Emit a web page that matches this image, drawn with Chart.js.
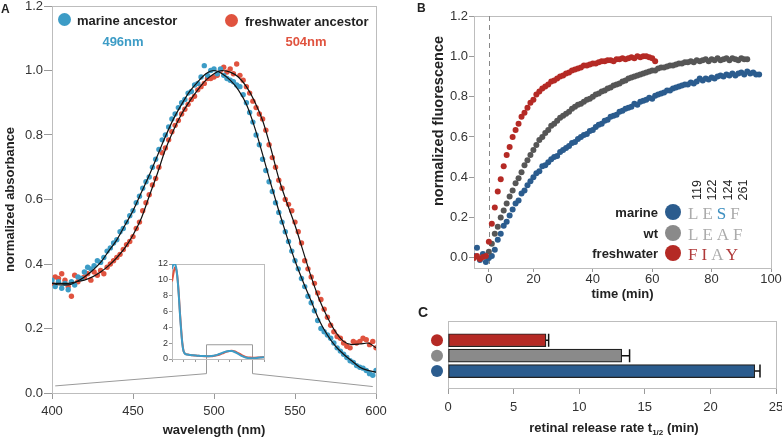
<!DOCTYPE html>
<html lang="en">
<head>
<meta charset="UTF-8" />
<title>Ancestral rhodopsin spectra and retinal release</title>
<style>
  body { margin: 0; background: #fff; font-family: 'Liberation Sans', Arial, sans-serif; color: #222; }
  #fig { position: relative; width: 782px; height: 439px; overflow: hidden; }
  canvas { position: absolute; }
  .t { position: absolute; white-space: nowrap; line-height: 1; }
  .b { font-weight: bold; font-size: 13px; }
  .mid { transform: translate(-50%, -50%); }
  .lft { transform: translateY(-50%); }
  .rgt { transform: translate(-100%, -50%); }
  .dot { position: absolute; border-radius: 50%; }
  .seq { font-family: 'Liberation Serif', 'DejaVu Serif', serif; font-size: 17px; letter-spacing: 4px; color: #ababab; }
  .num { font-size: 12.5px; transform: translate(-50%, -50%) rotate(-90deg); }
  .pl { font-weight: bold; font-size: 12px; }
</style>
</head>
<body>
<div id="fig">
  <canvas id="cA" width="400" height="439" style="left:0;top:0"></canvas>
  <canvas id="cInset" width="120" height="108" style="left:150px;top:258px"></canvas>
  <canvas id="cB" width="382" height="302" style="left:400px;top:0"></canvas>
  <canvas id="cC" width="382" height="139" style="left:400px;top:300px"></canvas>

  <!-- panel letters -->
  <div class="t pl" style="left:1px;top:3px">A</div>
  <div class="t pl" style="left:417px;top:2px">B</div>
  <div class="t pl" style="left:418px;top:305px;font-size:14px">C</div>

  <!-- A legend -->
  <div class="dot" style="left:58px;top:13px;width:13px;height:13px;background:#3d9cc6"></div>
  <div class="t b lft" style="left:77px;top:20px">marine ancestor</div>
  <div class="t b mid" style="left:123px;top:41px;color:#3d9cc6">496nm</div>
  <div class="dot" style="left:225px;top:14px;width:13px;height:13px;background:#e0533f"></div>
  <div class="t b lft" style="left:245px;top:21px">freshwater ancestor</div>
  <div class="t b mid" style="left:306px;top:41px;color:#e0533f">504nm</div>

  <!-- B axis title (sits above centre in the original) -->
  <div class="t mid" style="left:438px;top:121px;font-weight:bold;font-size:14.5px;transform:translate(-50%,-50%) rotate(-90deg)">normalized fluorescence</div>

  <!-- B legend -->
  <div class="t num" style="left:697px;top:190px">119</div>
  <div class="t num" style="left:712px;top:190px">122</div>
  <div class="t num" style="left:728px;top:190px">124</div>
  <div class="t num" style="left:743px;top:190px">261</div>
  <div class="t b rgt" style="left:658px;top:212px">marine</div>
  <div class="dot" style="left:665px;top:204px;width:16px;height:16px;background:#2b5c8e"></div>
  <div class="t seq lft" style="left:688px;top:213px">LE<span style="color:#3d8fc0">S</span>F</div>
  <div class="t b rgt" style="left:658px;top:233px">wt</div>
  <div class="dot" style="left:665px;top:225px;width:16px;height:16px;background:#8a8a8a"></div>
  <div class="t seq lft" style="left:688px;top:234px">LEAF</div>
  <div class="t b rgt" style="left:658px;top:253px">freshwater</div>
  <div class="dot" style="left:665px;top:245px;width:16px;height:16px;background:#b52a25"></div>
  <div class="t seq lft" style="left:688px;top:254px;color:#b03a3a">FI<span style="color:#ababab">A</span>Y</div>

  <!-- C axis title (needs a subscript) -->
  <div class="t b mid" style="left:614px;top:429px">retinal release rate t<sub style="font-size:8px">1/2</sub> (min)</div>
</div>

<script src="https://cdn.jsdelivr.net/npm/chart.js@4"></script>
<script>
// ---------- A: absorbance spectra ----------
const wlDotStart = 400, wlDotStep = 2;   // scan grid of the measured points (nm)
const marineAbs = [
  0.35,0.33,0.345,0.325,0.34,0.32,0.345,0.335,0.36,0.355,
  0.375,0.39,0.385,0.395,0.41,0.405,0.42,0.44,0.45,0.465,
  0.475,0.5,0.51,0.53,0.55,0.565,0.59,0.61,0.635,0.655,
  0.67,0.7,0.725,0.755,0.785,0.8,0.825,0.85,0.865,0.885,
  0.9,0.91,0.93,0.935,0.955,0.96,0.98,1.015,0.985,1.0,
  1.005,0.99,1.005,0.985,0.975,0.97,0.965,0.955,0.95,0.925,
  0.9,0.87,0.84,0.8,0.77,0.725,0.69,0.655,0.625,0.59,
  0.56,0.53,0.5,0.47,0.44,0.41,0.385,0.355,0.33,0.3,
  0.28,0.255,0.225,0.2,0.19,0.18,0.17,0.155,0.14,0.13,
  0.12,0.11,0.1,0.095,0.085,0.08,0.077,0.07,0.06,0.055,
  0.07
];
const freshAbs = [
  0.34,0.36,0.355,0.37,0.35,0.33,0.3,0.365,0.345,0.355,
  0.36,0.37,0.35,0.375,0.365,0.38,0.37,0.39,0.4,0.41,
  0.42,0.43,0.445,0.46,0.47,0.485,0.51,0.53,0.565,0.59,
  0.615,0.645,0.665,0.7,0.745,0.76,0.785,0.81,0.83,0.845,
  0.865,0.88,0.895,0.91,0.92,0.94,0.95,0.96,0.975,0.975,
  0.98,0.985,1.0,1.01,0.995,1.005,0.99,1.02,0.985,0.97,
  0.95,0.93,0.905,0.885,0.865,0.85,0.815,0.77,0.73,0.7,
  0.66,0.635,0.6,0.585,0.565,0.53,0.5,0.465,0.41,0.385,
  0.36,0.34,0.31,0.29,0.26,0.235,0.21,0.19,0.175,0.17,
  0.155,0.145,0.14,0.16,0.155,0.16,0.17,0.165,0.15,0.16,
  0.14
];
const wlFit = [400,405,410,415,420,425,430,435,440,445,450,455,460,465,470,475,480,485,490,495,
               500,505,510,515,520,525,530,535,540,545,550,555,560,565,570,575,580,585,590,595,600];
const marineFit = [0.34,0.335,0.335,0.345,0.36,0.38,0.405,0.44,0.475,0.52,0.565,0.62,0.675,0.735,0.795,0.85,0.895,0.935,0.965,0.99,
                   1.0,0.99,0.97,0.94,0.895,0.825,0.74,0.65,0.565,0.485,0.41,0.345,0.285,0.225,0.18,0.145,0.12,0.1,0.08,0.07,0.065];
const freshFit = [0.34,0.34,0.34,0.345,0.35,0.36,0.375,0.395,0.42,0.45,0.49,0.54,0.61,0.68,0.755,0.815,0.865,0.905,0.94,0.97,
                  0.99,1.0,0.995,0.98,0.95,0.905,0.845,0.76,0.665,0.59,0.52,0.44,0.36,0.29,0.235,0.19,0.16,0.15,0.152,0.155,0.14];
const absTicks = [0, 0.2, 0.4, 0.6, 0.8, 1.0, 1.2];

// inset: full spectrum
const wlInset = [250,255,260,265,270,275,280,285,290,295,300,305,310,320,330,340,350,360,370,380,390,400,410,420,430,
                 440,450,460,470,480,490,500,510,520,530,540,550,560,570,580,590,600,610,620,630,640,650];
const marineInset = [11.4,11.9,12.0,11.9,11.2,9.8,7.8,5.5,3.5,1.9,1.0,0.7,0.6,0.55,0.5,0.48,0.45,0.42,0.4,0.38,0.37,0.36,0.35,0.37,0.42,
                     0.48,0.57,0.67,0.79,0.9,0.98,1.02,1.0,0.92,0.78,0.6,0.43,0.3,0.2,0.13,0.1,0.08,0.1,0.14,0.18,0.2,0.22];
const freshInset = [9.8,10.6,11.3,11.6,11.1,9.9,8.0,5.7,3.7,2.0,1.05,0.72,0.62,0.56,0.5,0.47,0.44,0.41,0.39,0.37,0.36,0.36,0.35,0.36,0.39,
                    0.44,0.51,0.6,0.71,0.83,0.93,1.0,1.03,0.99,0.88,0.72,0.55,0.38,0.26,0.2,0.18,0.17,0.17,0.18,0.2,0.21,0.22];
const insetZoom = [400, 600];   // wavelength window shown in the main plot

// ---------- B: fluorescence time course ----------
const tStep = 1;                 // min between reads
const marineStart = 0, wtStart = 5, freshStart = 0;
const marineFluor = [
  0.01,0.05,-0.01,0.02,-0.02,0.0,0.01,0.04,0.09,0.12,
  0.16,0.18,0.21,0.24,0.27,0.285,0.32,0.335,0.36,0.38,
  0.4,0.42,0.43,0.455,0.46,0.475,0.49,0.5,0.505,0.525,
  0.535,0.545,0.555,0.57,0.575,0.59,0.6,0.61,0.615,0.63,
  0.635,0.65,0.66,0.665,0.68,0.685,0.7,0.705,0.71,0.725,
  0.73,0.74,0.745,0.75,0.765,0.76,0.775,0.78,0.785,0.795,
  0.79,0.805,0.81,0.815,0.82,0.83,0.83,0.84,0.845,0.85,
  0.855,0.86,0.86,0.87,0.865,0.875,0.89,0.88,0.89,0.885,
  0.895,0.89,0.9,0.905,0.9,0.91,0.905,0.915,0.905,0.915,
  0.92,0.91,0.925,0.915,0.92,0.91,0.91
];
const wtFluor = [
  0.03,0.07,0.12,0.155,0.2,0.235,0.27,0.305,0.335,0.37,
  0.395,0.425,0.46,0.485,0.51,0.535,0.56,0.585,0.6,0.62,
  0.635,0.655,0.665,0.68,0.695,0.705,0.715,0.725,0.74,0.75,
  0.76,0.765,0.775,0.785,0.79,0.8,0.81,0.815,0.825,0.83,
  0.84,0.845,0.855,0.86,0.865,0.875,0.88,0.89,0.895,0.9,
  0.905,0.91,0.915,0.92,0.925,0.93,0.93,0.94,0.945,0.945,
  0.95,0.955,0.955,0.96,0.965,0.965,0.97,0.97,0.975,0.97,
  0.98,0.975,0.98,0.985,0.975,0.985,0.98,0.99,0.98,0.985,
  0.99,0.98,0.99,0.985,0.98,0.99,0.985,0.985
];
const freshFluor = [
  0.0,0.01,-0.005,0.005,0.01,0.08,0.17,0.25,0.33,0.39,
  0.455,0.51,0.55,0.6,0.635,0.665,0.7,0.72,0.745,0.77,
  0.785,0.81,0.825,0.84,0.85,0.86,0.875,0.88,0.89,0.9,
  0.905,0.915,0.92,0.93,0.935,0.94,0.945,0.955,0.955,0.96,
  0.965,0.965,0.97,0.975,0.975,0.98,0.98,0.975,0.985,0.985,
  0.99,0.985,0.99,0.995,0.99,1.0,0.995,1.0,1.0,0.995,
  0.99,0.975
];
const injectionTime = 5;
const timeTickVals = [5, 20, 40, 60, 80, 100];
const timeTickLabels = ['0', '20', '40', '60', '80', '100'];
const fluorTicks = [0, 0.2, 0.4, 0.6, 0.8, 1.0, 1.2];

// ---------- C: retinal release half-times ----------
const variants = ['freshwater', 'wt', 'marine'];
const releaseT = [7.47, 13.24, 23.38];
const releaseErr = [0.2, 0.6, 0.4];
const releaseTicks = [0, 5, 10, 15, 20, 25];

// ---------- colours ----------
const BLUE_A = '#3d9cc6', RED_A = '#e0533f';
const BLUE_B = '#2b5c8e', GRAY_B = '#565656', RED_B = '#b52a25';
const barColors = ['#b52a25', '#8a8a8a', '#2b5c8e'];

Chart.defaults.font.family = "'Liberation Sans', Arial, sans-serif";
Chart.defaults.font.size = 13;
Chart.defaults.color = '#333';

const xy = (xs, ys) => ys.map((y, i) => ({ x: xs[i], y }));
const grid = (start, step, n) => Array.from({ length: n }, (_, i) => start + i * step);
const fixTicks = vals => s => { s.ticks = vals.map(v => ({ value: v })); };
// fixed axis size, and let tick labels hang outside the plot like the original
const fixW = w => s => { s.width = w; s.paddingTop = 0; s.paddingBottom = 0; };
const fixH = h => s => { s.height = h; s.paddingLeft = 0; s.paddingRight = 0; };

const framePlugin = {
  id: 'frame',
  beforeDatasetsDraw(chart) {
    const { ctx, chartArea: a } = chart;
    ctx.save();
    ctx.strokeStyle = '#bdbdbd';
    ctx.lineWidth = 1;
    ctx.strokeRect(Math.round(a.left) + 0.5, Math.round(a.top) + 0.5, Math.round(a.right - a.left), Math.round(a.bottom - a.top));
    ctx.restore();
  }
};

const axisGrid = len => ({ drawOnChartArea: false, tickLength: len, color: '#9a9a9a' });
const quiet = { legend: { display: false }, tooltip: { enabled: false } };

// inset first so the main panel can read its scales
const insetChart = new Chart(document.getElementById('cInset'), {
  type: 'line',
  data: {
    datasets: [
      { data: xy(wlInset, marineInset), borderColor: BLUE_A, borderWidth: 2, pointRadius: 0, tension: 0.3 },
      { data: xy(wlInset, freshInset), borderColor: RED_A, borderWidth: 2, pointRadius: 0, tension: 0.3 }
    ]
  },
  options: {
    animation: false, responsive: false, devicePixelRatio: 1,
    layout: { padding: { top: 6, right: 6, left: 0, bottom: 0 } },
    plugins: quiet,
    scales: {
      x: { type: 'linear', min: 250, max: 650, afterFit: fixH(7),
           ticks: { stepSize: 50, callback: () => '' }, grid: axisGrid(3), border: { color: '#9a9a9a' } },
      y: { min: 0, max: 12, afterFit: fixW(22),
           ticks: { stepSize: 2, font: { size: 9 }, padding: 1 }, grid: axisGrid(3), border: { color: '#9a9a9a' } }
    }
  },
  plugins: [framePlugin]
});

const insetLeft = 150, insetTop = 258;
const zoomPlugin = {
  id: 'zoomBox',
  afterDatasetsDraw(chart) {
    const { ctx } = chart;
    const ix = insetChart.scales.x, iy = insetChart.scales.y;
    const mx = chart.scales.x, my = chart.scales.y;
    const x1 = insetLeft + ix.getPixelForValue(insetZoom[0]);
    const x2 = insetLeft + ix.getPixelForValue(insetZoom[1]);
    const yTop = insetTop + iy.getPixelForValue(1.8);
    const yFoot = my.getPixelForValue(0.06);
    ctx.save();
    ctx.strokeStyle = '#9a9a9a';
    ctx.lineWidth = 1;
    ctx.beginPath();
    ctx.moveTo(mx.getPixelForValue(402), my.getPixelForValue(0.022));
    ctx.lineTo(x1, yFoot);
    ctx.lineTo(x1, yTop);
    ctx.lineTo(x2, yTop);
    ctx.lineTo(x2, yFoot);
    ctx.lineTo(mx.getPixelForValue(598), my.getPixelForValue(0.02));
    ctx.stroke();
    ctx.restore();
  }
};

new Chart(document.getElementById('cA'), {
  type: 'scatter',
  data: {
    datasets: [
      { label: 'marine fit', type: 'line', data: xy(wlFit, marineFit), borderColor: '#111', borderWidth: 1.2,
        pointRadius: 0, cubicInterpolationMode: 'monotone' },
      { label: 'freshwater fit', type: 'line', data: xy(wlFit, freshFit), borderColor: '#111', borderWidth: 1.2,
        pointRadius: 0, cubicInterpolationMode: 'monotone' },
      { label: 'marine ancestor', data: xy(grid(wlDotStart, wlDotStep, marineAbs.length), marineAbs),
        backgroundColor: BLUE_A, borderWidth: 0, pointRadius: 2.7 },
      { label: 'freshwater ancestor', data: xy(grid(wlDotStart, wlDotStep, freshAbs.length), freshAbs),
        backgroundColor: RED_A, borderWidth: 0, pointRadius: 2.7 }
    ]
  },
  options: {
    animation: false, responsive: false, devicePixelRatio: 1,
    layout: { padding: { top: 6, right: 24, left: 0, bottom: 0 } },
    plugins: quiet,
    scales: {
      x: { type: 'linear', min: 400, max: 600, afterFit: fixH(46),
           ticks: { stepSize: 50, padding: 5 }, grid: axisGrid(6), border: { color: '#aaa' },
           title: { display: true, text: 'wavelength (nm)', color: '#222', font: { size: 13, weight: 'bold' }, padding: { top: 0, bottom: 1 } } },
      y: { min: 0, max: 1.2, afterFit: fixW(52), afterBuildTicks: fixTicks(absTicks),
           ticks: { padding: 1, callback: v => v.toFixed(1) }, grid: axisGrid(8), border: { color: '#aaa' },
           title: { display: true, text: 'normalized absorbance', color: '#222', font: { size: 13, weight: 'bold' }, padding: { top: 3 } } }
    }
  },
  plugins: [framePlugin, zoomPlugin]
});

const injectPlugin = {
  id: 'inject',
  beforeDatasetsDraw(chart) {
    const { ctx, chartArea: a } = chart;
    const x = Math.round(chart.scales.x.getPixelForValue(injectionTime)) + 0.5;
    ctx.save();
    ctx.strokeStyle = '#888';
    ctx.lineWidth = 1;
    ctx.setLineDash([5, 4]);
    ctx.beginPath();
    ctx.moveTo(x, a.top);
    ctx.lineTo(x, a.bottom);
    ctx.stroke();
    ctx.restore();
  }
};

new Chart(document.getElementById('cB'), {
  type: 'scatter',
  data: {
    datasets: [
      { label: 'freshwater', data: xy(grid(freshStart, tStep, freshFluor.length), freshFluor), backgroundColor: RED_B, borderWidth: 0, pointRadius: 3 },
      { label: 'wt', data: xy(grid(wtStart, tStep, wtFluor.length), wtFluor), backgroundColor: GRAY_B, borderWidth: 0, pointRadius: 3 },
      { label: 'marine', data: xy(grid(marineStart, tStep, marineFluor.length), marineFluor), backgroundColor: BLUE_B, borderWidth: 0, pointRadius: 3 }
    ]
  },
  options: {
    animation: false, responsive: false, devicePixelRatio: 1,
    layout: { padding: { top: 16, right: 11, left: 0, bottom: 0 } },
    plugins: quiet,
    scales: {
      x: { type: 'linear', min: 0, max: 100, afterFit: fixH(34), afterBuildTicks: fixTicks(timeTickVals),
           ticks: { autoSkip: false, padding: 0, callback: (v, i) => timeTickLabels[i] }, grid: axisGrid(4), border: { color: '#aaa' },
           title: { display: true, text: 'time (min)', color: '#222', font: { size: 13, weight: 'bold' }, padding: { top: 0, bottom: 0 } } },
      y: { min: -0.05, max: 1.2, afterFit: fixW(74), afterBuildTicks: fixTicks(fluorTicks),
           ticks: { padding: 1, callback: v => v.toFixed(1) }, grid: axisGrid(5), border: { color: '#aaa' } }
    }
  },
  plugins: [framePlugin, injectPlugin]
});

// rows of panel C, top to bottom
const rowPos = variants.map((_, i) => variants.length - i);

const errPlugin = {
  id: 'errBars',
  afterDatasetsDraw(chart) {
    const { ctx } = chart;
    const xs = chart.scales.x, ys = chart.scales.y;
    ctx.save();
    ctx.strokeStyle = '#111';
    ctx.lineWidth = 1.5;
    releaseT.forEach((v, i) => {
      const y = ys.getPixelForValue(rowPos[i]);
      const x0 = xs.getPixelForValue(v), x1 = xs.getPixelForValue(v + releaseErr[i]);
      ctx.beginPath();
      ctx.moveTo(x0, y); ctx.lineTo(x1, y);
      ctx.moveTo(x1, y - 6.5); ctx.lineTo(x1, y + 6.5);
      ctx.stroke();
    });
    ctx.restore();
  }
};

const rowDotPlugin = {
  id: 'rowDots',
  afterDraw(chart) {
    const { ctx, chartArea: a } = chart;
    const ys = chart.scales.y;
    ctx.save();
    variants.forEach((_, i) => {
      ctx.fillStyle = barColors[i];
      ctx.beginPath();
      ctx.arc(a.left - 11, ys.getPixelForValue(rowPos[i]), 6, 0, Math.PI * 2);
      ctx.fill();
    });
    ctx.restore();
  }
};

new Chart(document.getElementById('cC'), {
  type: 'bar',
  data: {
    datasets: [{
      label: 'retinal release t1/2',
      data: releaseT.map((v, i) => ({ x: v, y: rowPos[i] })),
      backgroundColor: barColors, borderColor: '#222', borderWidth: 1.2, borderSkipped: false, barThickness: 13
    }]
  },
  options: {
    indexAxis: 'y',
    animation: false, responsive: false, devicePixelRatio: 1,
    layout: { padding: { top: 21, right: 6, left: 0, bottom: 0 } },
    plugins: quiet,
    scales: {
      x: { type: 'linear', min: 0, max: 25, afterFit: fixH(51), afterBuildTicks: fixTicks(releaseTicks),
           ticks: { padding: 6 }, grid: axisGrid(6), border: { color: '#aaa' } },
      y: { type: 'linear', min: 0.34, max: 3.81, afterFit: fixW(48),
           ticks: { display: false }, grid: { display: false }, border: { color: '#aaa' } }
    }
  },
  plugins: [framePlugin, errPlugin, rowDotPlugin]
});
</script>
</body>
</html>
